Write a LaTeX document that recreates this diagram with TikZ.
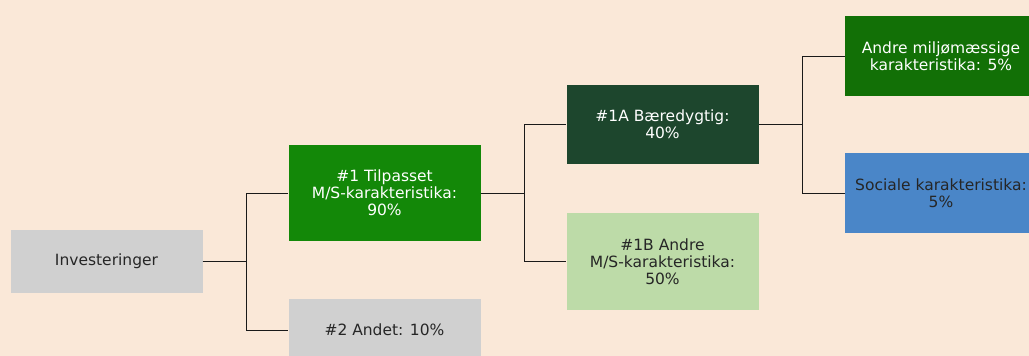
\documentclass[tikz,border=0pt]{standalone}
\usepackage{fontspec}
\setmainfont{DejaVu Sans}
\usetikzlibrary{positioning}
\definecolor{bgcol}{HTML}{FAE8D8}
\definecolor{greycol}{HTML}{D0D0D0}
\definecolor{tilcol}{HTML}{138808}
\definecolor{baercol}{HTML}{1D462D}
\definecolor{andrecol}{HTML}{BDDBA8}
\definecolor{miljcol}{HTML}{127006}
\definecolor{soccol}{HTML}{4A86C8}

\begin{document}
\begin{tikzpicture}
  [x=1pt,y=-1pt,
   every node/.style={inner sep=0pt,align=center,minimum width=192pt,
     font=\fontsize{15.5}{17}\selectfont},
   grey/.style={fill=greycol,text=black!85},
   link/.style={line width=1pt,black!90}]
  \clip (0,0) rectangle (1029,356);
  \fill[bgcol] (0,0) rectangle (1029,356);

  \node[grey,minimum height=63pt] (inv) at (106.5,261.5) {Investeringer};
  \node[fill=tilcol,text=white,minimum height=96pt] (t1) at (384.5,193) {\#1 Tilpasset\\M/S-karakteristika:\\90\%};
  \node[grey,minimum height=62pt] (t2) at (384.5,330) {\#2 Andet: 10\%};
  \node[fill=baercol,text=white,minimum height=79pt] (t1a) at (662.5,124.5) {\#1A Bæredygtig:\\40\%};
  \node[fill=andrecol,text=black!85,minimum height=97pt] (t1b) at (662.5,261.5) {\#1B Andre\\M/S-karakteristika:\\50\%};
  \node[fill=miljcol,text=white,minimum height=80pt] (env) at (941,56) {Andre miljømæssige\\karakteristika: 5\%};
  \node[fill=soccol,text=black!85,minimum height=80pt] (soc) at (941,193) {Sociale karakteristika:\\5\%};

  \foreach \from/\to in {inv/t1,inv/t2,t1/t1a,t1/t1b,t1a/env,t1a/soc}
    \draw[link] (\from.east) -- ++(43.5,0) |- (\to.west);
\end{tikzpicture}
\end{document}
